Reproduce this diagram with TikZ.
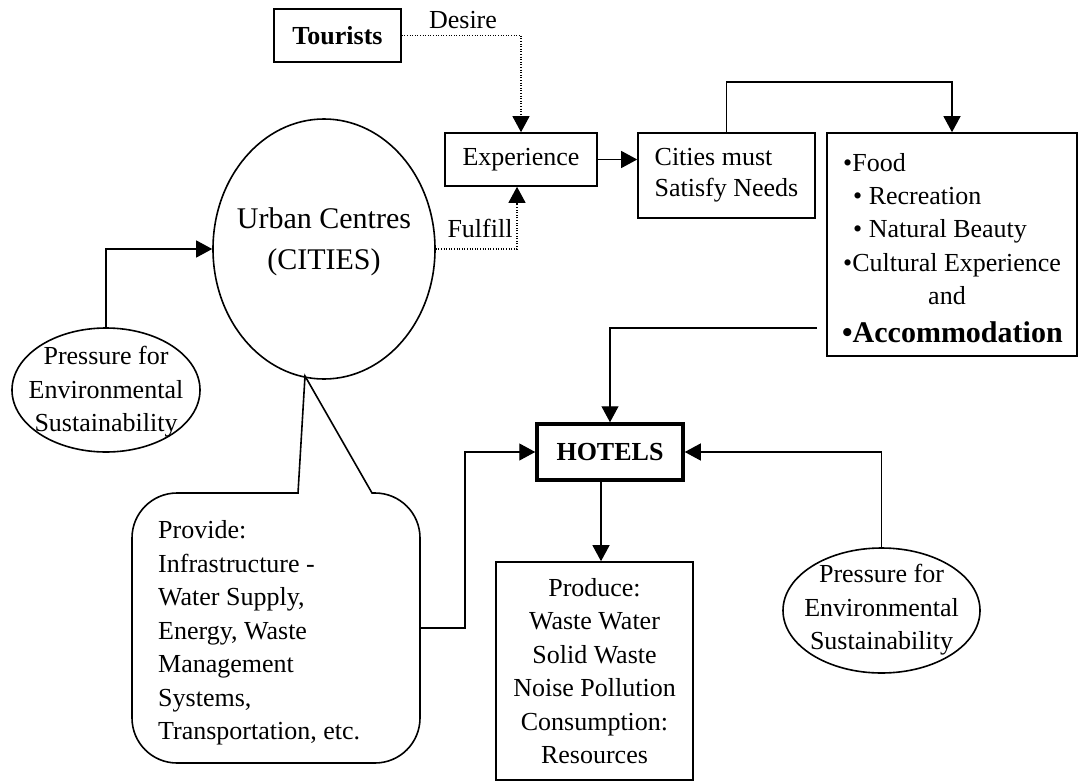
\documentclass[tikz,border=0pt]{standalone}
\usepackage{fontspec}
\setmainfont{Liberation Serif}
\usetikzlibrary{arrows.meta,shapes.geometric}
\tikzset{
  shp/.style={draw, line width=1.6pt, inner sep=0pt},
  boxnode/.style={shp, rectangle, align=center, font=\fontsize{26}{33.5}\selectfont},
  ell/.style={shp, ellipse},
  txt/.style={inner sep=0pt, align=center, font=\fontsize{26}{33.5}\selectfont},
  conn/.style={line width=1.2pt, -{Triangle[length=16pt,width=17pt]}},
  dotconn/.style={line width=1.1pt, dash pattern=on 1pt off 1.6pt, -{Triangle[length=16pt,width=17pt]}},
}
\begin{document}
\begin{tikzpicture}[x=1pt,y=-1pt]
\useasboundingbox[fill=white] (0,0) rectangle (1078,781);

% nodes
\node[boxnode, minimum width=127pt, minimum height=53pt, font=\fontsize{26}{33.5}\selectfont\bfseries] (tour) at (337.5,35.5) {Tourists};
\node[boxnode, minimum width=152pt, minimum height=53pt] (exp) at (521,159.5) {Experience};
\node[boxnode, minimum width=177pt, minimum height=85pt, align=left, font=\fontsize{26}{31}\selectfont] (cities) at (726.5,175.5) {Cities must\\Satisfy Needs};
\node[shp, rectangle, minimum width=250pt, minimum height=223pt] (list) at (952,244.5) {};
\node[txt, anchor=base west] (l1) at (843,171) {•Food};
\node[txt, anchor=base west] (l2) at (853,204) {• Recreation};
\node[txt, anchor=base west] (l3) at (853,237) {• Natural Beauty};
\node[txt, anchor=base west] (l4) at (843,271) {•Cultural Experience};
\node[txt, anchor=base] (l5) at (947,304) {and};
\node[txt, anchor=base west, font=\fontsize{30}{36}\selectfont\bfseries] (l6) at (842,342) {•Accommodation};

\node[ell, minimum width=222pt, minimum height=260pt] (city) at (324,249) {};
\node[txt, font=\fontsize{30}{41}\selectfont] (cityt) at (324,242) {Urban Centres\\(CITIES)};

\node[ell, minimum width=188pt, minimum height=124pt] (pl) at (106,390) {};
\node[txt] (plt) at (106,392) {Pressure for\\Environmental\\Sustainability};

\node[ell, minimum width=197pt, minimum height=125pt] (pr) at (881.5,610.5) {};
\node[txt] (prt) at (881.5,610) {Pressure for\\Environmental\\Sustainability};

\node[boxnode, line width=3.5pt, minimum width=146pt, minimum height=56pt, font=\fontsize{26}{33.5}\selectfont\bfseries] (hotels) at (610,452) {HOTELS};

\node[boxnode, minimum width=197pt, minimum height=218pt] (produce) at (594.5,671) {Produce:\\Waste Water\\Solid Waste\\Noise Pollution\\Consumption:\\Resources};

% callout
\draw[line width=1.6pt, fill=white] (298,493) -- (305,376) -- (372,493) -- (375,493)
  arc[start angle=270, end angle=360, radius=45] -- (420,718)
  arc[start angle=0, end angle=90, radius=45] -- (177,763)
  arc[start angle=90, end angle=180, radius=45] -- (132,538)
  arc[start angle=180, end angle=270, radius=45] -- cycle;
\node[txt, anchor=west, align=left] (prov) at (158,633) {Provide:\\Infrastructure -\\Water Supply,\\Energy, Waste\\Management\\Systems,\\Transportation, etc.};

% labels
\node[txt] (desire) at (463,20) {Desire};
\node[txt] (fulfill) at (480,228) {Fulfill};

% coordinates
\coordinate (c1) at (726.5,82);
\coordinate (a1) at (817,328);
\coordinate (provR) at (420,628);
\coordinate (p1) at (465,628);

% connectors
\draw[dotconn] (tour.east) -| (exp.north);
\draw[dotconn] (city.east) -| ([xshift=-4pt]exp.south);
\draw[conn] (exp.east) -- (cities.west |- exp.east);
\draw[conn] (cities.north) -- (c1) -| (list.north);
\draw[conn] (a1) -| (hotels.north);
\draw[conn] (provR) -- (p1) |- (hotels.west);
\draw[conn] (pr.north) |- (hotels.east);
\draw[conn] ([xshift=-9pt]hotels.south) -- ([xshift=-9pt]hotels.south |- produce.north);
\draw[conn] (pl.north) |- (city.west);
\end{tikzpicture}
\end{document}
